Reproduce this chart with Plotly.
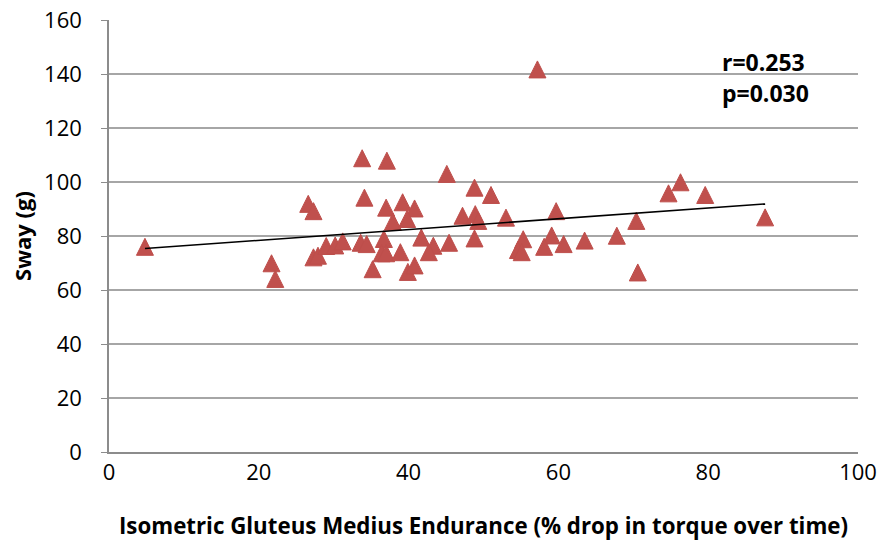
import numpy as np
import plotly.graph_objects as go

endurance = [4.8, 21.7, 22.2, 26.6, 27.3, 33.8, 37.1, 34.1, 27.3, 27.9,
             29.0, 30.2, 31.2, 33.6, 34.4, 35.2, 36.7, 36.4, 37.0, 37.0,
             39.2, 40.8, 37.9, 39.8, 38.9, 39.9, 40.8, 45.1, 48.8, 51.0,
             47.2, 48.9, 49.3, 53.0, 59.7, 41.7, 43.3, 42.7, 45.4, 48.8,
             55.3, 54.6, 55.1, 59.1, 58.1, 60.7, 63.5, 67.8, 70.4, 70.6,
             74.7, 76.3, 79.6, 87.6, 57.2]
sway = [76.0, 69.9, 64.1, 91.9, 89.2, 108.8, 107.9, 94.2, 72.1, 72.7,
        76.3, 76.5, 78.0, 77.5, 77.0, 67.7, 78.9, 73.6, 73.6, 90.5,
        92.5, 90.2, 85.3, 86.3, 74.0, 66.7, 69.1, 103.0, 97.9, 95.2,
        87.5, 88.1, 85.6, 86.8, 89.2, 79.4, 76.4, 74.0, 77.5, 79.1,
        78.8, 74.8, 74.0, 80.2, 76.0, 77.0, 78.3, 80.1, 85.6, 66.5,
        95.8, 99.9, 95.2, 86.9, 141.7]
stats_text = ["r=0.253", "p=0.030"]

x = np.array(endurance)
y = np.array(sway)
slope, intercept = np.polyfit(x, y, 1)
tx = np.array([x.min(), x.max()])
ty = slope * tx + intercept

FONT = "'Open Sans', sans-serif"
MSIZE = 17

fig = go.Figure()
fig.add_trace(go.Scatter(
    x=endurance, y=sway, mode="markers",
    marker=dict(symbol="arrow-down", angle=180, size=MSIZE, standoff=MSIZE / 2,
                color="#C0504D", line=dict(color="#BE4E4B", width=1)),
    showlegend=False, cliponaxis=False))
fig.add_trace(go.Scatter(
    x=tx, y=ty, mode="lines", line=dict(color="black", width=1.5),
    showlegend=False))

fig.add_annotation(x=81.6, y=144.6, text="<b>" + stats_text[0] + "</b>",
                   showarrow=False, xanchor="left", yanchor="middle",
                   font=dict(family=FONT, size=23, color="black"))
fig.add_annotation(x=81.6, y=132.8, text="<b>" + stats_text[1] + "</b>",
                   showarrow=False, xanchor="left", yanchor="middle",
                   font=dict(family=FONT, size=23, color="black"))

fig.update_layout(
    width=882, height=541,
    margin=dict(l=109, r=24, t=20, b=89),
    paper_bgcolor="white", plot_bgcolor="white",
    font=dict(family=FONT, size=22, color="black"),
    xaxis=dict(range=[0, 100], tickvals=[0, 20, 40, 60, 80, 100],
               showgrid=False, zeroline=False, showline=True,
               linecolor="#8C8C8C", linewidth=1.5, ticks="",
               tickfont=dict(size=22), ticklabelstandoff=0, automargin=False,
               title=dict(text="<b>Isometric Gluteus Medius Endurance (% drop in torque over time)</b>",
                          font=dict(size=22.3), standoff=35)),
    yaxis=dict(range=[0, 160], tickvals=list(range(0, 161, 20)),
               showgrid=True, gridcolor="#A6A6A6", gridwidth=1.5,
               zeroline=False, showline=True, linecolor="#8C8C8C",
               linewidth=1.5, ticks="outside", ticklen=6, tickcolor="#8C8C8C",
               tickfont=dict(size=22), ticklabelstandoff=15, automargin=False,
               title=dict(text="<b>Sway (g)</b>", font=dict(size=22), standoff=6)),
)

fig.write_html("out.html")
